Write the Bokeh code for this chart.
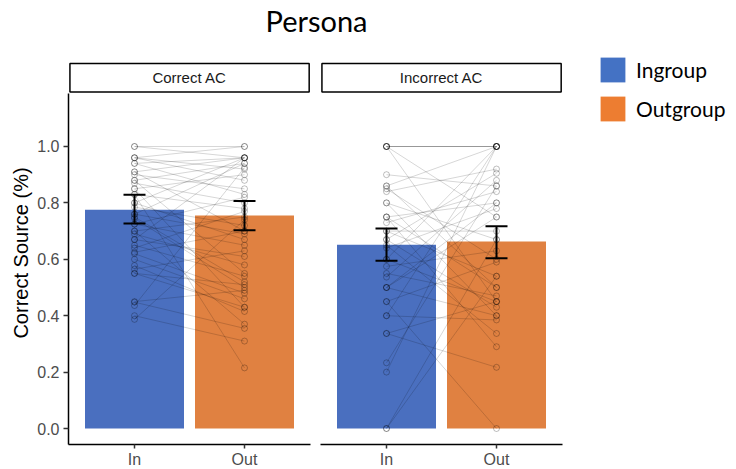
from bokeh.plotting import figure
from bokeh.models import (ColumnDataSource, Range1d, FixedTicker, Whisker, TeeHead,
                          Legend, LegendItem, Div, NumeralTickFormatter)
from bokeh.layouts import row, column
from bokeh.core.properties import value
from bokeh.embed import file_html
from bokeh.resources import INLINE

# ---------------- data ----------------
groups = ["In", "Out"]
facets = ["Correct AC", "Incorrect AC"]
legend_labels = ["Ingroup", "Outgroup"]
y_ticks = [0.0, 0.2, 0.4, 0.6, 0.8, 1.0]

correct_mean = [0.776, 0.755]
correct_lower = [0.727, 0.703]
correct_upper = [0.829, 0.807]
incorrect_mean = [0.652, 0.663]
incorrect_lower = [0.595, 0.604]
incorrect_upper = [0.709, 0.717]

correct_in = [1.00, 1.00, 0.96, 0.96, 0.94, 0.94, 0.91, 0.91, 0.88, 0.88, 0.87, 0.85, 0.85,
              0.83, 0.83, 0.80, 0.80, 0.785, 0.76, 0.76, 0.745, 0.725, 0.725, 0.70, 0.70,
              0.69, 0.67, 0.67, 0.65, 0.64, 0.625, 0.62, 0.578, 0.565, 0.55, 0.448, 0.436,
              0.40, 0.387, 0.96, 0.90, 0.75, 0.60, 0.45, 0.55]
correct_out = [1.00, 0.96, 1.00, 0.92, 0.96, 0.83, 0.96, 0.70, 0.94, 0.55, 0.80, 0.90, 0.43,
               0.78, 0.215, 0.96, 0.67, 0.72, 0.94, 0.69, 0.50, 0.82, 0.65, 0.75, 0.37,
               0.58, 0.96, 0.61, 0.54, 0.77, 0.70, 0.48, 0.415, 0.63, 0.51, 0.355, 0.925,
               0.31, 0.74, 0.88, 0.85, 0.52, 0.46, 0.49, 0.43]
incorrect_in = [1.0, 1.0, 1.0, 1.0, 1.0, 0.90, 0.86, 0.86, 0.84, 0.80, 0.80, 0.75, 0.75,
                0.73, 0.70, 0.70, 0.67, 0.67, 0.64, 0.60, 0.60, 0.575, 0.537, 0.50, 0.50,
                0.45, 0.45, 0.40, 0.40, 0.337, 0.337, 0.233, 0.20, 0.0, 0.0, 0.55, 0.65,
                0.85, 0.50, 0.75]
incorrect_out = [1.0, 1.0, 1.0, 0.75, 0.45, 0.86, 0.50, 1.0, 0.92, 0.67, 0.40, 0.80, 0.29,
                 0.84, 0.70, 0.54, 0.905, 0.43, 0.78, 0.45, 1.0, 0.63, 0.88, 0.40, 0.75,
                 0.0, 0.59, 0.385, 1.0, 0.45, 0.217, 0.86, 1.0, 0.54, 0.67, 0.47, 0.337,
                 0.60, 0.80, 0.50]

bar_colors = ["#4a6fbf", "#e08141"]
legend_colors = ["#4472c4", "#ed7d31"]

# ---------------- geometry (pixels) ----------------
FRAME_W = 242
FRAME_H = 383
TOP_BORDER = 15
AXIS_H = 23
TITLE_H = 46
Y_START = -0.0567
Y_END = 1.3014
AXIS_TOP = 1.188
STRIP_BOTTOM = 1.193
STRIP_TOP = 1.294
X_START, X_END = 0.4, 2.6

FONT = "Liberation Sans"


def make_panel(facet, means, lowers, uppers, vals_in, vals_out, show_y, border_left, border_right):
    p = figure(frame_width=FRAME_W, frame_height=FRAME_H,
               x_range=Range1d(X_START, X_END), y_range=Range1d(Y_START, Y_END),
               output_backend="svg", toolbar_location=None,
               y_axis_location="left" if show_y else None,
               min_border_left=border_left, min_border_right=border_right,
               min_border_top=TOP_BORDER, min_border_bottom=0)
    p.outline_line_color = None
    p.grid.grid_line_color = None
    p.background_fill_color = "white"
    p.border_fill_color = "white"

    xpos = [i + 1 for i in range(len(groups))]

    # bars
    bsrc = ColumnDataSource(dict(x=xpos, top=means, color=bar_colors,
                                 lower=lowers, upper=uppers))
    p.vbar(x="x", top="top", width=0.9, bottom=0, fill_color="color",
           line_color=None, source=bsrc)

    # paired individual lines
    xs = [[xpos[0], xpos[1]] for _ in vals_in]
    ys = [[a, b] for a, b in zip(vals_in, vals_out)]
    p.multi_line(xs=xs, ys=ys, line_color="black", line_alpha=0.16, line_width=1)

    # points
    p.scatter(x=[xpos[0]] * len(vals_in), y=vals_in, marker="circle", size=6,
              fill_color=None, line_color="black", line_alpha=0.25, line_width=1)
    p.scatter(x=[xpos[1]] * len(vals_out), y=vals_out, marker="circle", size=6,
              fill_color=None, line_color="black", line_alpha=0.25, line_width=1)

    # error bars
    w = Whisker(source=bsrc, base="x", upper="upper", lower="lower",
                line_color="black", line_width=2, level="overlay",
                upper_head=TeeHead(size=22, line_width=2, line_color="black"),
                lower_head=TeeHead(size=22, line_width=2, line_color="black"))
    p.add_layout(w)

    # facet strip
    p.quad(left=[0.413], right=[2.588], bottom=[STRIP_BOTTOM], top=[STRIP_TOP],
           fill_color="white", line_color="black", line_width=1.5)
    p.text(x=[(X_START + X_END) / 2], y=[(STRIP_BOTTOM + STRIP_TOP) / 2], text=[facet],
           text_align="center", text_baseline="middle", text_font=value(FONT),
           text_font_size="15px", text_color="#1a1a1a")

    # x axis
    xa = p.xaxis[0]
    xa.ticker = FixedTicker(ticks=xpos)
    xa.major_label_overrides = {i + 1: g for i, g in enumerate(groups)}
    xa.axis_line_color = "black"
    xa.axis_line_width = 1.5
    xa.major_tick_line_color = "#333333"
    xa.major_tick_line_width = 1.5
    xa.major_tick_out = 4
    xa.major_tick_in = 0
    xa.minor_tick_line_color = None
    xa.major_label_standoff = 2
    xa.major_label_text_font = FONT
    xa.major_label_text_font_size = "16px"
    xa.major_label_text_color = "#4d4d4d"

    if show_y:
        ya = p.yaxis[0]
        ya.ticker = FixedTicker(ticks=y_ticks)
        ya.formatter = NumeralTickFormatter(format="0.0")
        ya.bounds = (Y_START, AXIS_TOP)
        ya.axis_line_color = "black"
        ya.axis_line_width = 1.5
        ya.major_tick_line_color = "#333333"
        ya.major_tick_line_width = 1.5
        ya.major_tick_out = 5
        ya.major_tick_in = 0
        ya.minor_tick_line_color = None
        ya.major_label_standoff = 4
        ya.major_label_text_font = FONT
        ya.major_label_text_font_size = "16px"
        ya.major_label_text_color = "#4d4d4d"
        ya.axis_label = "Correct Source (%)"
        ya.axis_label_text_font = FONT
        ya.axis_label_text_font_size = "20px"
        ya.axis_label_text_font_style = "normal"
        ya.axis_label_text_color = "black"
        ya.axis_label_standoff = 2
    return p


p1 = make_panel(facets[0], correct_mean, correct_lower, correct_upper,
                correct_in, correct_out, True, 68, 5)
p2 = make_panel(facets[1], incorrect_mean, incorrect_lower, incorrect_upper,
                incorrect_in, incorrect_out, False, 5, 5)

# legend panel (to the right of the facets, spanning the full height)
LEG_W = 160
LEG_H = TITLE_H + TOP_BORDER + FRAME_H + AXIS_H
p3 = figure(width=LEG_W, height=LEG_H, title=None,
            x_range=Range1d(0, 1), y_range=Range1d(0, 1),
            output_backend="svg", toolbar_location=None, x_axis_location=None,
            y_axis_location=None, min_border_left=22, min_border_right=0,
            min_border_top=TITLE_H, min_border_bottom=0)
p3.outline_line_color = None
p3.grid.grid_line_color = None
lr = []
for c in legend_colors:
    # keys drawn only inside the legend (the glyph itself lies outside the visible range)
    lr.append(p3.quad(left=[5], right=[6], top=[5], bottom=[6], fill_color=c, line_color=None))
legend = Legend(items=[LegendItem(label=l, renderers=[r]) for l, r in zip(legend_labels, lr)],
                location="top_left", glyph_width=31, glyph_height=31, spacing=8,
                padding=0, margin=8, border_line_color=None, background_fill_alpha=0,
                label_text_font="Lato", label_text_font_size="21px",
                label_text_color="black", label_standoff=8, label_height=31)
p3.add_layout(legend)

panels = row(p1, p2, spacing=0)
title = Div(text='<span style="position:relative; left:33px">Persona</span>',
            width=567, height=TITLE_H, margin=0,
            styles={"font-family": "Lato", "font-size": "29px", "line-height": "42px",
                    "text-align": "center", "color": "black"})

layout = row(column(title, panels, spacing=0), p3, spacing=0, align="start")

open("out.html", "w").write(file_html(layout, INLINE))
